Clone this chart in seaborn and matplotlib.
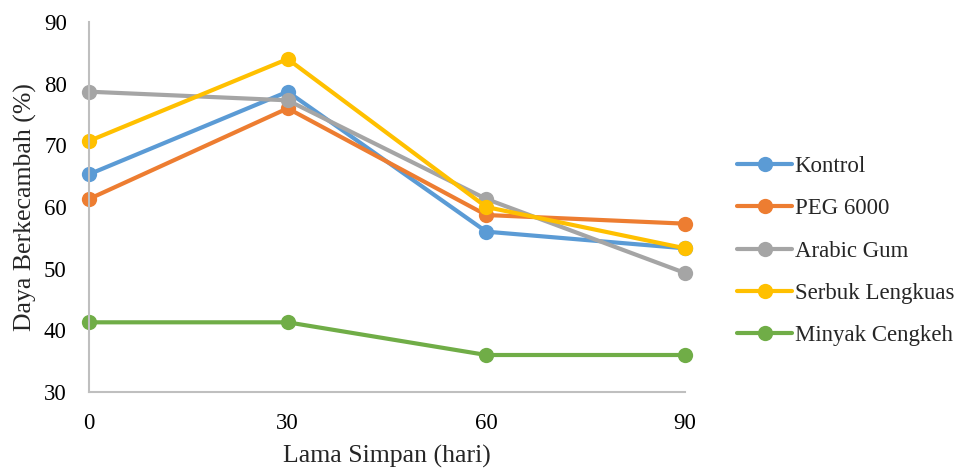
import matplotlib
matplotlib.use("Agg")
import matplotlib.pyplot as plt
import seaborn as sns
import pandas as pd

days = [0, 30, 60, 90]
series_names = ["Kontrol", "PEG 6000", "Arabic Gum", "Serbuk Lengkuas", "Minyak Cengkeh"]
kontrol = [65.3, 78.7, 56.0, 53.3]
peg6000 = [61.3, 76.0, 58.7, 57.3]
arabic_gum = [78.7, 77.3, 61.3, 49.3]
serbuk_lengkuas = [70.7, 84.0, 60.0, 53.3]
minyak_cengkeh = [41.3, 41.3, 36.0, 36.0]
colors = ["#5B9BD5", "#ED7D31", "#A5A5A5", "#FFC000", "#70AD47"]
yticks = [30, 40, 50, 60, 70, 80, 90]

values = [kontrol, peg6000, arabic_gum, serbuk_lengkuas, minyak_cengkeh]
rows = []
for name, vals in zip(series_names, values):
    for d, v in zip(days, vals):
        rows.append({"Lama Simpan (hari)": d, "Daya Berkecambah (%)": v, "Perlakuan": name})
df = pd.DataFrame(rows)

sns.set_theme(style="white")
plt.rcParams["font.family"] = ["Liberation Serif", "DejaVu Serif"]

fig = plt.figure(figsize=(9.65, 4.7), dpi=100)
ax = fig.add_axes([89/965, 1 - 392/470, (685-89)/965, (392-22)/470])

sns.lineplot(data=df, x="Lama Simpan (hari)", y="Daya Berkecambah (%)", hue="Perlakuan",
             hue_order=series_names, palette=colors, marker="o", markersize=11,
             markeredgewidth=0, linewidth=3, ax=ax, legend=True)

ax.set_xlim(0, 90)
ax.set_ylim(30, 90)
ax.set_xticks(days)
ax.set_yticks(yticks)
ax.tick_params(axis="both", length=0, labelsize=16.5, colors="black")
ax.tick_params(axis="x", pad=15)
ax.tick_params(axis="y", pad=16)
for lab in ax.get_xticklabels() + ax.get_yticklabels():
    lab.set_clip_on(False)
for s in ["top", "right"]:
    ax.spines[s].set_visible(False)
for s in ["left", "bottom"]:
    ax.spines[s].set_color("#BFBFBF")
    ax.spines[s].set_linewidth(1.5)
ax.set_xlabel("Lama Simpan (hari)", fontsize=18.5, labelpad=8)
ax.set_ylabel("Daya Berkecambah (%)", fontsize=18.5, labelpad=5)
for line in ax.lines:
    line.set_clip_on(False)

leg = ax.legend(loc="center left", bbox_to_anchor=(737/965, 1 - 251/470), bbox_transform=fig.transFigure,
                frameon=False, fontsize=16.5, handlelength=2.4, labelspacing=0.93, handletextpad=0.12,
                borderaxespad=0, borderpad=0)
fig.savefig("out.png", dpi=100)
